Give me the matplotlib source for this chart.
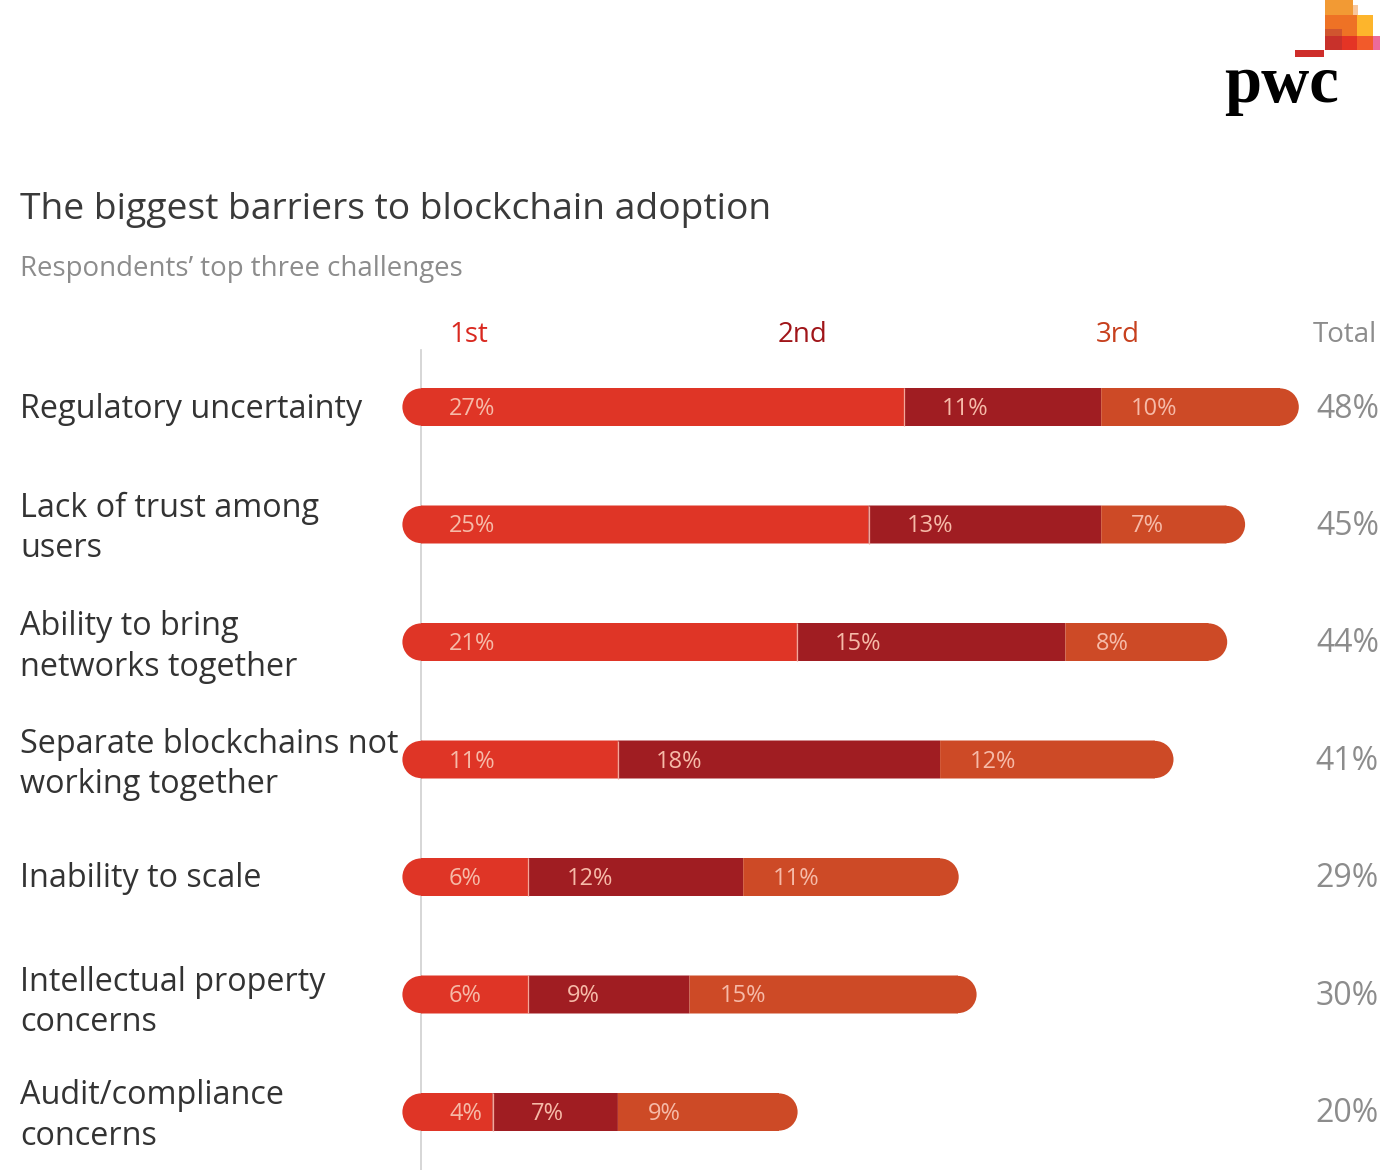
import matplotlib
matplotlib.use("Agg")
import matplotlib.pyplot as plt
from matplotlib.patches import Ellipse, Rectangle
from matplotlib.transforms import blended_transform_factory

# ---------------- data ----------------
categories = [
    "Regulatory uncertainty",
    "Lack of trust among\nusers",
    "Ability to bring\nnetworks together",
    "Separate blockchains not\nworking together",
    "Inability to scale",
    "Intellectual property\nconcerns",
    "Audit/compliance\nconcerns",
]
first = [27, 25, 21, 11, 6, 6, 4]
second = [11, 13, 15, 18, 12, 9, 7]
third = [10, 7, 8, 12, 11, 15, 9]
totals = [48, 45, 44, 41, 29, 30, 20]
rank_labels = ["1st", "2nd", "3rd"]
total_label = "Total"
title = "The biggest barriers to blockchain adoption"
subtitle = "Respondents\u2019 top three challenges"

# ---------------- style ----------------
FONT = "Open Sans"
plt.rcParams["font.family"] = [FONT, "DejaVu Sans"]
C1, C2, C3 = "#DF3526", "#A01D22", "#CD4A26"
HEAD_COLORS = ["#D9281F", "#A01519", "#C7401E"]
LABEL_C = "#F6BAA8"
GRAY = "#8C8C8C"
DARK = "#333333"

W, H = 1400, 1170
PX = 17.9          # pixels per percentage point
X0 = 421           # pixel x of 0 %
ROW0, ROWSTEP = 407, 117.5
BAR_PX = 38

fig = plt.figure(figsize=(W / 100, H / 100), dpi=100)
fig.patch.set_facecolor("white")

# pixel axes for decorative items
pax = fig.add_axes([0, 0, 1, 1])
pax.set_xlim(0, W)
pax.set_ylim(H, 0)
pax.axis("off")

# main data axes
ax = fig.add_axes([0, 0, 1, 1])
ax.set_xlim(-X0 / PX, (W - X0) / PX)
ax.set_ylim((H - ROW0) / ROWSTEP, (0 - ROW0) / ROWSTEP)
ax.axis("off")
ax.patch.set_alpha(0)

n = len(categories)
ys = list(range(n))
bh = BAR_PX / ROWSTEP
rx = (BAR_PX / 2 - 0.4) / PX
ry = (BAR_PX / 2 - 0.4) / ROWSTEP

# baseline
ax.plot([0, 0], [(350 - ROW0) / ROWSTEP, (H - ROW0) / ROWSTEP],
        color="#CFCFCF", lw=1.2, zorder=0)

left2 = [a for a in first]
left3 = [a + b for a, b in zip(first, second)]
ends = [a + b + c for a, b, c in zip(first, second, third)]

for i in ys:
    ax.add_patch(Ellipse((0, i), 2 * rx, 2 * ry, color=C1, lw=0, zorder=2))
    ax.add_patch(Ellipse((ends[i], i), 2 * rx, 2 * ry, color=C3, lw=0, zorder=2))

for vals, lefts, c in ((first, [0] * n, C1), (second, left2, C2), (third, left3, C3)):
    bars = ax.barh(ys, vals, left=lefts, height=bh, color=c, lw=0, zorder=3)
    for b in bars:
        b.set_snap(False)

# thin light separator between 1st and 2nd
for i in ys:
    ax.plot([first[i], first[i]], [i - bh / 2, i + bh / 2], color="#F3A79A",
            lw=0.9, zorder=4, solid_capstyle="butt")

offs = [28 / PX, 38 / PX, 30 / PX]
dy_lab = 2 / ROWSTEP
for i in ys:
    for vals, lefts, o in ((first, [0] * n, offs[0]), (second, left2, offs[1]), (third, left3, offs[2])):
        ax.text(lefts[i] + o, i + dy_lab, f"{vals[i]}%", color=LABEL_C, fontsize=17,
                ha="left", va="center", zorder=5)

# totals
tr = blended_transform_factory(pax.transData, ax.transData)
for i in ys:
    ax.text(1379, i + 2 / ROWSTEP, f"{totals[i]}%", transform=tr, color=GRAY,
            fontsize=23, ha="right", va="center")

# category labels
label_shift = [3, 4, 5, 5, 2, 8, 4]
for i in ys:
    ax.text(20, i + label_shift[i] / ROWSTEP, categories[i], transform=tr,
            color=DARK, fontsize=23.3, ha="left", va="center", linespacing=1.3)

# headers
head_x = [449, 778, 1096]
for lab, x, c in zip(rank_labels, head_x, HEAD_COLORS):
    pax.text(x, 335, lab, color=c, fontsize=20, ha="left", va="center")
pax.text(1377, 335, total_label, color=GRAY, fontsize=20, ha="right", va="center")

# title / subtitle
pax.text(20, 210, title, color="#3A3A3A", fontsize=26.8, ha="left", va="center")
pax.text(20, 269, subtitle, color=GRAY, fontsize=19.9, ha="left", va="center")

# pwc logo
blocks = [
    (1325, 0, 28, 15, "#F29A34"),
    (1353, 5, 5, 10, "#F8C79C"),
    (1325, 15, 32, 21, "#EE7225"),
    (1357, 15, 16, 21, "#FDB52C"),
    (1325, 29, 17, 7, "#D0552F"),
    (1325, 36, 17, 14, "#C8312B"),
    (1342, 36, 15, 14, "#E43425"),
    (1357, 36, 16, 14, "#F25A2A"),
    (1373, 36, 7, 14, "#EC6A9A"),
    (1295, 50, 29, 7, "#CE2D2A"),
]
for x, y, w, h, c in blocks:
    pax.add_patch(Rectangle((x, y), w, h, color=c, lw=0))
pax.text(1224, 102, "pwc", family="Liberation Serif", fontweight="bold",
         fontsize=48, color="black", ha="left", va="baseline")

fig.savefig("out.png", dpi=100, facecolor="white")
